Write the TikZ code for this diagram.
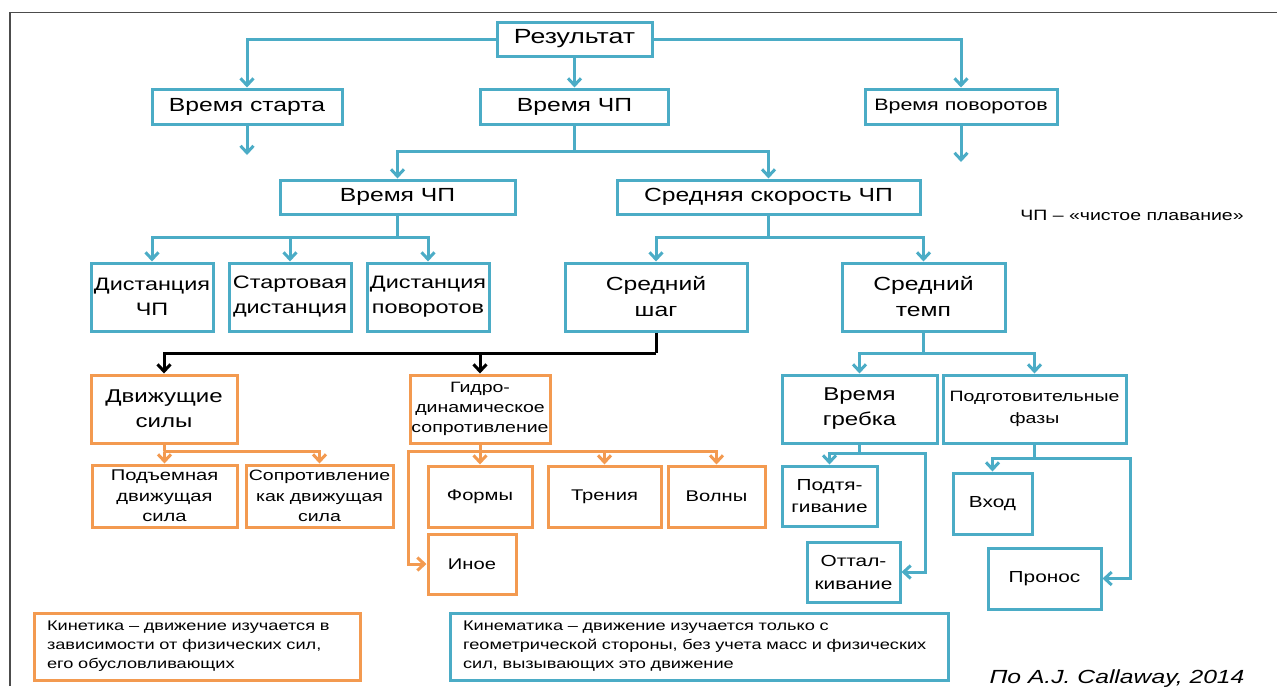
\documentclass[tikz,border=0pt]{standalone}
\usepackage{fontspec}
\setmainfont[FakeStretch=1.3]{Liberation Sans}
\usetikzlibrary{arrows.meta}
\definecolor{sea}{HTML}{4BACC6}
\definecolor{peach}{HTML}{F39A50}
\newcommand{\fs}[2]{\fontsize{#1}{#2}\selectfont}
\tikzset{
  sbox/.style={draw=sea, line width=3pt, align=center, inner sep=0pt},
  obox/.style={draw=peach, line width=3pt, align=center, inner sep=0pt},
  sline/.style={draw=sea, line width=3pt},
  oline/.style={draw=peach, line width=3pt},
  kline/.style={draw=black, line width=3pt},
  sarrow/.style={sline, -{Straight Barb[length=7pt,width=13pt]}},
  oarrow/.style={oline, -{Straight Barb[length=7pt,width=13pt]}},
  karrow/.style={kline, -{Straight Barb[length=7pt,width=13pt]}},
}
\begin{document}
\begin{tikzpicture}[x=1pt,y=-1pt]
    \useasboundingbox (0,0) rectangle (1277,686);
    \draw[black!70, line width=1.5pt] (10,686) -- (10,12.5) -- (1277,12.5);

    % top levels
    \node[sbox, minimum width=155, minimum height=34, font=\fs{20.5}{24}] (res) at (574.5,39) {Результат};
    \node[sbox, minimum width=190, minimum height=35, font=\fs{19}{23}] (start) at (247,106.5) {Время старта};
    \node[sbox, minimum width=188, minimum height=35, font=\fs{19}{23}] (cpa) at (574.5,106.5) {Время ЧП};
    \node[sbox, minimum width=192, minimum height=35, font=\fs{16.5}{20}] (turns) at (961,106.5) {Время поворотов};
    \node[sbox, minimum width=235, minimum height=34, font=\fs{19}{23}] (cpb) at (397.5,197) {Время ЧП};
    \node[sbox, minimum width=303, minimum height=34, font=\fs{19}{23}] (speed) at (768.5,197) {Средняя скорость ЧП};
    \node[font=\fs{15}{18}] (note) at (1132,215) {ЧП – «чистое плавание»};

    \node[sbox, minimum width=122, minimum height=68, font=\fs{18}{25}] (dist) at (152,297) {Дистанция\\ЧП};
    \node[sbox, minimum width=122, minimum height=68, font=\fs{18}{25}] (sdist) at (290,297) {Стартовая\\дистанция};
    \node[sbox, minimum width=122, minimum height=68, font=\fs{18}{25}] (tdist) at (428,297) {Дистанция\\поворотов};
    \node[sbox, minimum width=182, minimum height=68, font=\fs{19}{26}] (stride) at (656,297) {Средний\\шаг};
    \node[sbox, minimum width=163, minimum height=68, font=\fs{19}{26}] (tempo) at (923.5,297) {Средний\\темп};

    % kinetics
    \node[obox, minimum width=146, minimum height=68, font=\fs{18.5}{25}] (drive) at (164,409) {Движущие\\силы};
    \node[obox, minimum width=140, minimum height=68, font=\fs{15}{20}] (hydro) at (480,409) {Гидро-\\динамическое\\сопротивление};
    \node[obox, minimum width=145, minimum height=62, font=\fs{15.5}{20.5}] (lift) at (164.5,496) {Подъемная\\движущая\\сила};
    \node[obox, minimum width=147, minimum height=62, font=\fs{15}{20.5}] (dragp) at (319.5,496) {Сопротивление\\как движущая\\сила};
    \node[obox, minimum width=104, minimum height=61, font=\fs{15.5}{20}] (form) at (480,496.5) {Формы};
    \node[obox, minimum width=113, minimum height=61, font=\fs{15.5}{20}] (fric) at (604.5,496.5) {Трения};
    \node[obox, minimum width=97, minimum height=61, font=\fs{15.5}{20}] (wave) at (716.5,496.5) {Волны};
    \node[obox, minimum width=88, minimum height=60, font=\fs{15.5}{20}] (other) at (472,564) {Иное};

    % kinematics
    \node[sbox, minimum width=155, minimum height=68, font=\fs{18.5}{25}] (stroke) at (859.5,409) {Время\\гребка};
    \node[sbox, minimum width=183, minimum height=68, font=\fs{15}{22}] (prep) at (1034.5,409) {Подготовительные\\фазы};
    \node[sbox, minimum width=95, minimum height=60, font=\fs{16}{22}] (pull) at (829.5,496) {Подтя-\\гивание};
    \node[sbox, minimum width=93, minimum height=60, font=\fs{16}{23}] (push) at (853.5,572) {Оттал-\\кивание};
    \node[sbox, minimum width=79, minimum height=61, font=\fs{16}{20}] (entry) at (992.5,503.5) {Вход};
    \node[sbox, minimum width=113, minimum height=61, font=\fs{16}{20}] (recov) at (1044.5,578.5) {Пронос};

    % legend
    \node[obox, minimum height=67, text width=300, inner xsep=13, align=left, font=\fs{14}{19}] (kin) at (197,646.5)
        {Кинетика – движение изучается в\\зависимости от физических сил,\\его обусловливающих};
    \node[sbox, minimum height=67, text width=472, inner xsep=13, align=left, font=\fs{14}{19}] (kinem) at (699,646.5)
        {Кинематика – движение изучается только с\\геометрической стороны, без учета масс и физических\\сил, вызывающих это движение};
    \node[anchor=base, font=\fs{19}{23}\itshape] (src) at (1117,683) {По A.J. Callaway, 2014};

    % connectors
    \coordinate (startend) at (247,155);
    \coordinate (turnsend) at (961,162);
    \coordinate (ja) at (574.5,151);
    \coordinate (jb) at (397.5,237);
    \coordinate (jc) at (768.5,237);
    \coordinate (jd) at (656,353);
    \coordinate (je) at (923.5,353);
    \coordinate (jf) at (164,451);
    \coordinate (jg) at (480,451);
    \coordinate (jgl) at (408,451);
    \coordinate (jh) at (859.5,453);
    \coordinate (jhr) at (925,453);
    \coordinate (ji) at (1034.5,458);
    \coordinate (jir) at (1130,458);

    \draw[sarrow] (res.west) -| (start.north);
    \draw[sarrow] (res.south) -- (cpa.north);
    \draw[sarrow] (res.east) -| (turns.north);
    \draw[sarrow] (start.south) -- (startend);
    \draw[sarrow] (turns.south) -- (turnsend);

    \draw[sline] (cpa.south) -- (ja);
    \draw[sarrow] (ja) -| (cpb.north);
    \draw[sarrow] (ja) -| (speed.north);

    \draw[sline] (cpb.south) -- (jb);
    \draw[sarrow] (jb) -| (dist.north);
    \draw[sarrow] (jb) -| (sdist.north);
    \draw[sarrow] (jb) -| (tdist.north);
    \draw[sline] (speed.south) -- (jc);
    \draw[sarrow] (jc) -| (stride.north);
    \draw[sarrow] (jc) -| (tempo.north);

    \draw[kline] (stride.south) -- (jd);
    \draw[karrow] (jd) -| (drive.north);
    \draw[karrow] (jd) -| (hydro.north);

    \draw[oline] (drive.south) -- (jf);
    \draw[oarrow] (jf) -| (lift.north);
    \draw[oarrow] (jf) -| (dragp.north);
    \draw[oline] (hydro.south) -- (jg);
    \draw[oarrow] (jg) -- (form.north);
    \draw[oarrow] (jg) -| (fric.north);
    \draw[oarrow] (jg) -| (wave.north);
    \draw[oarrow] (jg) -- (jgl) |- (other.west);

    \draw[sline] (tempo.south) -- (je);
    \draw[sarrow] (je) -| (stroke.north);
    \draw[sarrow] (je) -| (prep.north);
    \draw[sline] (stroke.south) -- (jh);
    \draw[sarrow] (jh) -| (pull.north);
    \draw[sarrow] (jh) -- (jhr) |- (push.east);
    \draw[sline] (prep.south) -- (ji);
    \draw[sarrow] (ji) -| (entry.north);
    \draw[sarrow] (ji) -- (jir) |- (recov.east);
\end{tikzpicture}
\end{document}
